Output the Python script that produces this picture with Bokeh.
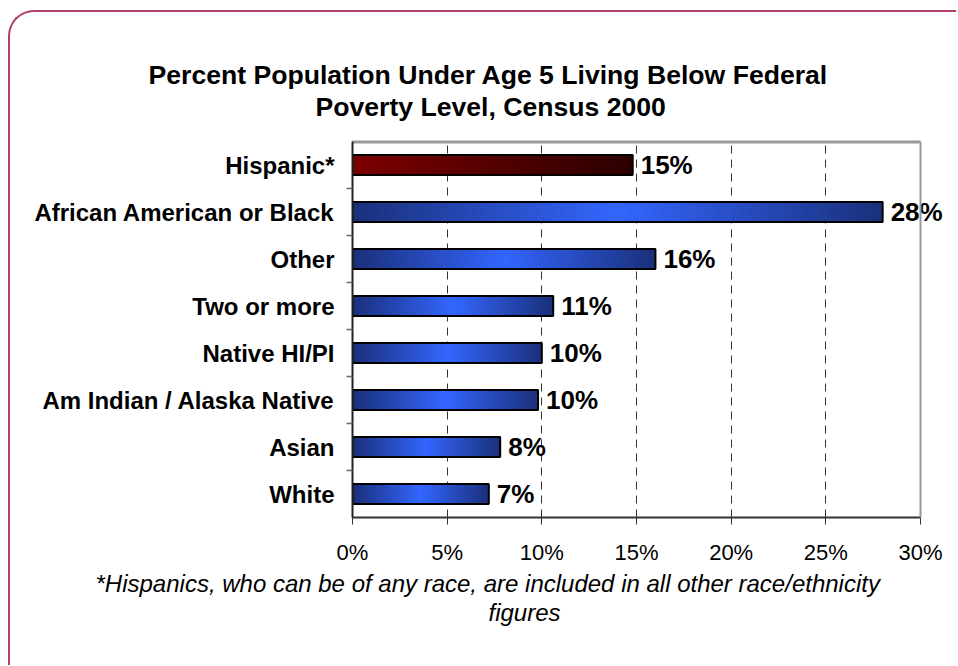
from bokeh.plotting import figure
from bokeh.models import (Range1d, FixedTicker, PrintfTickFormatter, ColumnDataSource,
                          LabelSet, Title, LinearAxis, Span)
from bokeh.core.properties import value
from bokeh.embed import file_html
from bokeh.resources import INLINE

# ---- data (bottom to top) ----
categories = ["White", "Asian", "Am Indian / Alaska Native", "Native HI/PI",
              "Two or more", "Other", "African American or Black", "Hispanic*"]
values = [7.2, 7.8, 9.8, 10.0, 10.6, 16.0, 28.0, 14.8]
x_ticks = [0, 5, 10, 15, 20, 25, 30]
title_lines = ["Percent Population Under Age 5 Living Below Federal",
               "Poverty Level, Census 2000"]
footnote_lines = ["*Hispanics, who can be of any race, are included in all other race/ethnicity",
                  "figures"]

FONT = "Liberation Sans"

W, H = 948, 655
X_MAX = x_ticks[-1]
X_END = X_MAX * 593 / 568  # extra room right of 30% for the value labels

p = figure(width=W, height=H, output_backend="svg", toolbar_location=None,
           title=None,
           x_range=Range1d(0, X_END), y_range=Range1d(0, len(categories)),
           min_border_left=342, min_border_right=13, min_border_top=129,
           min_border_bottom=150)
p.styles = {"border-left": "2px solid #b0406f", "border-top": "2px solid #b0406f",
            "border-top-left-radius": "26px", "margin-left": "8px",
            "margin-top": "10px", "background-color": "white"}
p.border_fill_color = None
p.background_fill_color = None
p.outline_line_color = None

ys = [i + 0.5 for i in range(len(categories))]


def lerp(c1, c2, t):
    return "#%02x%02x%02x" % tuple(int(round(a + (b - a) * t)) for a, b in zip(c1, c2))


navy = (0x1a, 0x30, 0x7a)
bright = (0x33, 0x66, 0xff)
red_l = (0x7c, 0x00, 0x00)
red_r = (0x2c, 0x00, 0x00)

N = 60
sl, sr, sy, sc = [], [], [], []
for cat, v, y in zip(categories, values, ys):
    for i in range(N):
        t = (i + 0.5) / N
        if cat == "Hispanic*":
            col = lerp(red_l, red_r, t)
        else:
            col = lerp(navy, bright, 1 - abs(2 * t - 1))
        sl.append(v * i / N)
        sr.append(min(v, v * (i + 1.6) / N))
        sy.append(y)
        sc.append(col)

BAR_H = 0.425
p.hbar(y=sy, left=sl, right=sr, height=BAR_H, fill_color=sc, line_color=None)
p.hbar(y=ys, left=0, right=values, height=BAR_H, fill_color=None,
       line_color="black", line_width=2)

# value labels
lab_src = ColumnDataSource(dict(x=values, y=ys,
                                t=["%d%%" % int(v + 0.5) for v in values]))
p.add_layout(LabelSet(x="x", y="y", text="t", source=lab_src, x_offset=8,
                      text_baseline="middle", text_align="left",
                      text_font=value(FONT), text_font_size=value("26px"),
                      text_font_style=value("bold"), text_color="black"))

# grid
p.ygrid.visible = False
p.xgrid.ticker = FixedTicker(ticks=x_ticks[1:-1])
p.xgrid.grid_line_color = "#333333"
p.xgrid.grid_line_dash = "8 6"
p.xgrid.grid_line_width = 1

# plot-area border: right (gray) at 30% and top (gray) from 0% to 30%
p.add_layout(Span(location=X_MAX, dimension="height", line_color="#999999",
                  line_width=2))
p.segment(x0=[x_ticks[0]], x1=[X_MAX], y0=[len(categories)], y1=[len(categories)],
          line_color="#999999", line_width=4)

# x axis
xa = p.xaxis[0]
xa.bounds = (x_ticks[0], X_MAX)
xa.ticker = FixedTicker(ticks=x_ticks)
xa.formatter = PrintfTickFormatter(format="%d%%")
xa.axis_line_color = "#333333"
xa.axis_line_width = 2
xa.major_tick_in = 0
xa.major_tick_out = 7
xa.major_tick_line_color = "#333333"
xa.minor_tick_line_color = None
xa.major_label_text_font = FONT
xa.major_label_text_font_size = "22px"
xa.major_label_text_color = "black"
xa.major_label_standoff = 15

# top border axis line (gray)
top = LinearAxis(bounds=(x_ticks[0], X_MAX), ticker=FixedTicker(ticks=[x_ticks[0], X_MAX]),
                 axis_line_color="#999999", axis_line_width=2,
                 major_tick_in=0, major_tick_out=0,
                 major_tick_line_color=None, minor_tick_line_color=None,
                 major_label_standoff=0, major_label_text_font_size="1px",
                 major_label_text_alpha=0)
p.add_layout(top, "above")

# spacer between plot and title
p.add_layout(Title(text=" ", text_font_size="1px", standoff=17), "above")

# y axis
ya = p.yaxis[0]
ya.ticker = FixedTicker(ticks=ys, minor_ticks=list(range(1, len(categories))))
ya.major_label_overrides = {y: c for y, c in zip(ys, categories)}
ya.axis_line_color = "#222222"
ya.axis_line_width = 2
ya.major_tick_in = 0
ya.major_tick_out = 0
ya.minor_tick_in = 0
ya.minor_tick_out = 6
ya.minor_tick_line_color = "#666666"
ya.minor_tick_line_width = 1.5
ya.major_label_text_font = FONT
ya.major_label_text_font_size = "24px"
ya.major_label_text_font_style = "bold"
ya.major_label_text_color = "black"
ya.major_label_standoff = 12

# title (two lines, later-added sits farther from the plot); offsets from plot left
title_offsets = [-204, -37]
for line, off in reversed(list(zip(title_lines, title_offsets))):
    p.add_layout(Title(text=line, align="left", offset=off,
                       text_font=FONT, text_font_size="26.6px",
                       text_font_style="bold", text_color="black",
                       standoff=0), "above")
# footnote
foot_offsets = [-257, 136]
for line, off in zip(footnote_lines, foot_offsets):
    p.add_layout(Title(text=line, align="left", offset=off,
                       text_font=FONT, text_font_size="24px",
                       text_font_style="italic", text_color="black",
                       standoff=0), "below")

open("out.html", "w").write(file_html(p, INLINE))
